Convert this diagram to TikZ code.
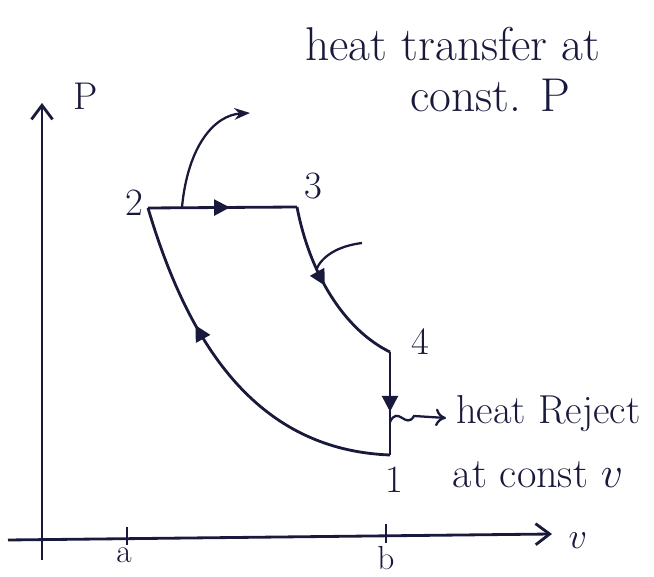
\documentclass[tikz,border=0pt]{standalone}
\usepackage{tikz}
\usetikzlibrary{arrows.meta,decorations.markings}
\definecolor{ink}{RGB}{25,25,60}

\begin{document}
\begin{tikzpicture}[x=0.02cm, y=-0.02cm, >=Stealth,
  hand/.style={ink, line width=1.6pt},
  lbl/.style={ink, font=\fontsize{22}{26}\selectfont},
  note/.style={ink, font=\fontsize{27}{32}\selectfont},
  dirmark/.style={postaction={decorate, decoration={markings,
    mark=at position #1 with {\arrow{Triangle[length=9pt,width=9pt]}}}}}]
  \useasboundingbox (0,0) rectangle (654,577);
  % axes
  \coordinate (o) at (42,560);
  \coordinate (ptop) at (42,103);
  \coordinate (vleft) at (8,540);
  \coordinate (vright) at (552,534);
  \draw[hand, -{Straight Barb[length=8pt,width=12pt]}] (o) -- (ptop);
  \draw[hand, -{Straight Barb[length=8pt,width=12pt]}] (vleft) -- (vright);
  \node[lbl] (plbl) at (86,96) {P};
  \node[lbl] (vlbl) at (578,541) {$v$};
  % ticks
  \draw[hand] (127,527) -- (127,545);
  \draw[hand] (386,524) -- (386,543);
  \node[lbl, anchor=north, inner sep=1pt, font=\fontsize{19}{22}\selectfont] (albl) at (124,546) {a};
  \node[lbl, anchor=north, inner sep=1pt, font=\fontsize{19}{22}\selectfont] (blbl) at (386,544) {b};
  % state points
  \coordinate (s1) at (390,455);
  \coordinate (s2) at (148,208);
  \coordinate (s3) at (297,207);
  \coordinate (s4) at (390,352);
  \node[lbl] (l1) at (394,480) {1};
  \node[lbl] (l2) at (134,203) {2};
  \node[lbl] (l3) at (313,186) {3};
  \node[lbl] (l4) at (420,342) {4};
  % cycle
  \draw[hand, dirmark=0.55] (s2) -- (s3);
  \draw[hand, dirmark=0.47] (s3) .. controls (310,275) and (345,330) .. (s4);
  \draw[hand, dirmark=0.58] (s4) -- (s1);
  \draw[hand, dirmark=0.66] (s1) .. controls (260,450) and (190,350) .. (s2);
  % notes
  \coordinate (q23) at (182,207);
  \coordinate (q34) at (316,270);
  \coordinate (q41) at (390,422);
  \node[note] (heatin) at (453,44) {heat transfer at};
  \node[note] (heatin2) at (490,95) {const. P};
  \draw[hand, line width=1.3pt, ->] (q23) .. controls (188,145) and (215,115) .. (250,113);
  \draw[hand, line width=1.3pt] (362,243) .. controls (338,246) and (322,256) .. (q34);
  \node[note, anchor=west, font=\fontsize{23}{28}\selectfont] (heatout) at (450,414) {heat Reject};
  \node[note, font=\fontsize{24}{28}\selectfont] (heatout2) at (538,475) {at const $v$};
  \draw[hand, line width=1.3pt, -{To[length=6pt,width=10pt]}] (q41) .. controls (398,405) and (406,430) .. (414,416) -- (446,418);
\end{tikzpicture}
\end{document}
